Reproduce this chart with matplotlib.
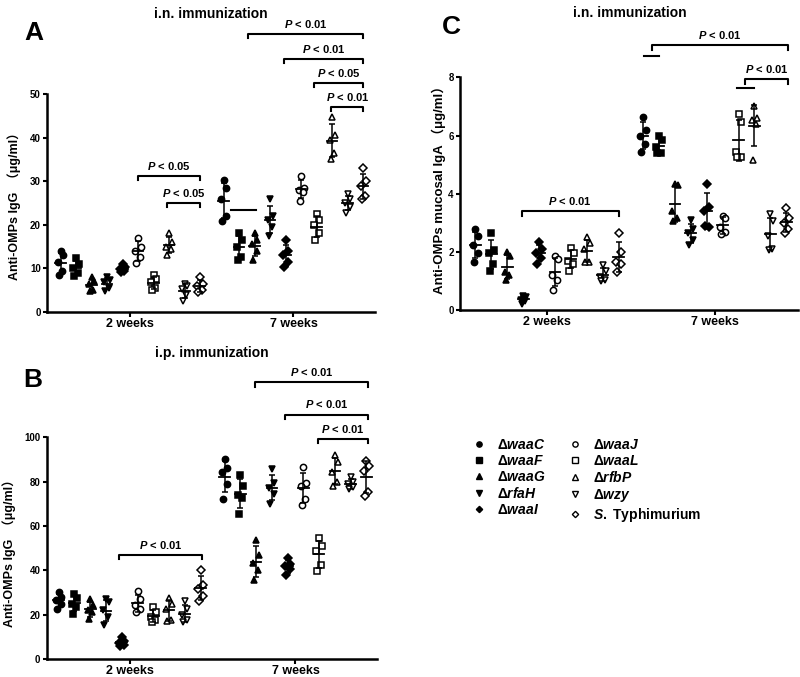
import numpy as np
import matplotlib
matplotlib.use("Agg")
import matplotlib.pyplot as plt
from matplotlib.lines import Line2D

plt.rcParams['font.family'] = ['Liberation Sans', 'Noto Sans CJK SC', 'DejaVu Sans']
plt.rcParams['font.weight'] = 'bold'
plt.rcParams['axes.labelweight'] = 'bold'
plt.rcParams['mathtext.fontset'] = 'custom'
plt.rcParams['mathtext.it'] = 'Liberation Sans:italic:bold'
plt.rcParams['mathtext.rm'] = 'Liberation Sans:bold'

# grupos
cepas = ["waaC", "waaF", "waaG", "rfaH", "waaI", "waaJ", "waaL", "rfbP", "wzy", "S."]
tiempos = ["2 weeks", "7 weeks"]
marcadores = ['o', 's', '^', 'v', 'D', 'o', 's', '^', 'v', 'D']
rellenos = ['k'] * 5 + ['white'] * 5

# A: IgG i.n. (ug/ml)
A_2w = [[13.9, 13.0, 11.5, 9.5, 8.5],
        [12.3, 11.0, 10.0, 9.0, 8.2],
        [8.0, 7.0, 6.5, 5.0, 4.8],
        [8.0, 7.3, 6.8, 5.5, 4.8],
        [11.0, 10.2, 9.8, 9.4, 9.2],
        [17.0, 15.0, 14.0, 12.5, 11.2],
        [8.5, 7.5, 6.8, 5.5, 5.0],
        [18.0, 16.0, 15.0, 14.5, 13.0],
        [6.5, 6.0, 5.2, 4.0, 2.5],
        [8.0, 6.5, 6.0, 5.0, 4.5]]
A_7w = [[30.3, 28.5, 26.0, 22.0, 20.8],
        [18.0, 16.5, 15.0, 12.5, 12.0],
        [18.0, 16.5, 15.5, 14.0, 12.0],
        [25.8, 22.0, 21.0, 19.5, 17.5],
        [16.5, 14.0, 13.0, 11.5, 10.2],
        [31.2, 28.5, 28.0, 27.5, 25.5],
        [22.5, 21.0, 20.0, 18.0, 16.5],
        [44.8, 40.5, 39.5, 36.5, 35.0],
        [27.0, 26.0, 25.0, 24.0, 22.8],
        [33.0, 30.0, 29.0, 26.5, 25.8]]

# B: IgG i.p. (ug/ml)
B_2w = [[30.0, 28.0, 26.5, 25.0, 22.5],
        [29.5, 27.5, 25.0, 23.5, 20.5],
        [27.0, 24.5, 22.0, 21.0, 18.0],
        [27.0, 25.5, 22.0, 19.0, 15.5],
        [10.0, 8.0, 7.0, 6.5, 6.0],
        [30.5, 27.0, 24.5, 22.5, 21.0],
        [23.5, 21.0, 19.0, 17.5, 16.5],
        [27.5, 25.0, 22.5, 17.5, 17.0],
        [26.0, 22.5, 20.0, 17.5, 16.5],
        [40.0, 33.5, 31.5, 28.5, 26.0]]
B_7w = [[90.0, 86.0, 84.5, 79.0, 72.0],
        [83.0, 78.0, 74.0, 72.5, 65.5],
        [53.5, 47.0, 43.5, 40.0, 35.5],
        [85.5, 79.5, 77.0, 74.5, 70.0],
        [45.5, 43.0, 42.0, 40.5, 38.0],
        [86.5, 79.5, 78.0, 72.0, 69.5],
        [54.5, 51.0, 48.5, 42.5, 39.5],
        [92.0, 89.0, 84.5, 80.0, 78.0],
        [82.0, 80.0, 79.0, 77.5, 76.5],
        [89.5, 87.0, 85.0, 75.5, 73.5]]

# C: IgA mucosa i.n. (ug/ml)
C_2w = [[2.8, 2.55, 2.25, 1.95, 1.65],
        [2.65, 2.05, 1.95, 1.6, 1.35],
        [2.0, 1.85, 1.3, 1.2, 1.05],
        [0.5, 0.45, 0.35, 0.3, 0.22],
        [2.35, 2.1, 1.95, 1.8, 1.6],
        [1.85, 1.75, 1.2, 1.05, 0.7],
        [2.15, 1.95, 1.7, 1.6, 1.35],
        [2.5, 2.3, 2.1, 1.65, 1.65],
        [1.55, 1.35, 1.15, 1.05, 1.0],
        [2.65, 2.0, 1.65, 1.6, 1.3]]
C_7w = [[6.65, 6.2, 6.0, 5.7, 5.45],
        [6.0, 5.85, 5.6, 5.4, 5.4],
        [4.35, 4.3, 3.4, 3.15, 3.05],
        [3.1, 2.8, 2.65, 2.4, 2.25],
        [4.35, 3.55, 3.4, 2.85, 2.9],
        [3.25, 3.15, 2.85, 2.7, 2.6],
        [6.75, 6.45, 5.45, 5.25, 5.25],
        [7.0, 6.6, 6.55, 6.4, 5.15],
        [3.3, 3.05, 2.55, 2.1, 2.05],
        [3.5, 3.15, 3.0, 2.8, 2.65]]

# corchetes: (tiempo, grupo inicio, grupo fin, altura, texto)
A_sig = [(0, 5.0, 9.0, 31.2, "P < 0.05"), (0, 6.9, 9.0, 25.0, "P < 0.05"),
         (1, 1.6, 9.0, 63.8, "P < 0.01"), (1, 3.9, 9.0, 58.0, "P < 0.01"),
         (1, 5.85, 9.0, 52.5, "P < 0.05"), (1, 6.95, 9.0, 47.0, "P < 0.01")]
B_sig = [(0, 3.85, 9.1, 47.0, "P < 0.01"),
         (1, 1.93, 9.1, 124.9, "P < 0.01"), (1, 3.85, 9.1, 110.2, "P < 0.01"),
         (1, 5.9, 9.1, 99.2, "P < 0.01")]
C_sig = [(0, 2.9, 9.0, 3.41, "P < 0.01"),
         (1, 0.56, 9.1, 9.1, "P < 0.01"), (1, 6.42, 9.1, 7.93, "P < 0.01")]
# rayas sueltas
A_raya = [(1, 0.45, 2.1, 23.4)]
C_raya = [(1, 0.04, 0.98, 8.73), (1, 5.9, 7.0, 7.62)]

sep = 0.095
jit = np.array([0.0, 0.016, -0.016, 0.012, -0.01])


def posx(t, i):
    return t + (i - 4.5) * sep


def p_texto(s):
    return s.replace("P", r"$\mathit{P}$", 1)


def dibuja(ax, d2, d7, ymax, ystep, xlim, sig, rayas):
    for t, datos in enumerate([d2, d7]):
        for i, vals in enumerate(datos):
            xc = posx(t, i)
            ms = 3.8 if marcadores[i] == 'D' else 4.5
            ax.plot(xc + jit, vals, ls='none', marker=marcadores[i], mfc=rellenos[i],
                    mec='k', ms=ms, mew=1.1, clip_on=False, zorder=3)
            m = np.mean(vals)
            s = np.std(vals, ddof=1)
            ax.plot([xc - 0.032, xc + 0.032], [m, m], 'k-', lw=1.3, zorder=4)
            ax.errorbar(xc, m, yerr=s, fmt='none', ecolor='k', elinewidth=1.1,
                        capsize=2.5, capthick=1.1, zorder=4)
    h = ymax * 0.02
    for t, i0, i1, y, txt in sig:
        x0, x1 = posx(t, i0), posx(t, i1)
        ax.plot([x0, x0, x1, x1], [y - h, y, y, y - h], 'k-', lw=1.5, clip_on=False)
        ax.annotate(p_texto(txt), xy=((x0 + x1) / 2, y), xytext=(0, 3),
                    textcoords='offset points', ha='center', va='bottom',
                    fontsize=8, annotation_clip=False)
    for t, i0, i1, y in rayas:
        ax.plot([posx(t, i0), posx(t, i1)], [y, y], 'k-', lw=1.5, clip_on=False)
    ax.set_xlim(*xlim)
    ax.set_ylim(0, ymax)
    ax.set_yticks(np.arange(0, ymax + ystep / 2, ystep))
    ax.set_xticks([0, 1])
    ax.set_xticklabels(tiempos, fontsize=9)
    ax.tick_params(axis='y', labelsize=7, length=3, width=1.5, pad=1.5)
    ax.tick_params(axis='x', length=3.5, width=1.5, pad=1)
    for lado in ['top', 'right']:
        ax.spines[lado].set_visible(False)
    for lado in ['left', 'bottom']:
        ax.spines[lado].set_linewidth(1.8)


fig = plt.figure(figsize=(8, 6.77), dpi=100)

axA = fig.add_axes([0.0588, 0.5392, 0.41, 0.322])
dibuja(axA, A_2w, A_7w, 50, 10, (-0.51, 1.50), A_sig, A_raya)
axA.set_ylabel("Anti-OMPs IgG  （μg/ml）", fontsize=9)
axA.yaxis.set_label_coords(-0.079, 0.5)

axB = fig.add_axes([0.0584, 0.0266, 0.4125, 0.3275])
dibuja(axB, B_2w, B_7w, 100, 20, (-0.50, 1.49), B_sig, [])
axB.set_ylabel("Anti-OMPs IgG  （μg/ml）", fontsize=9)
axB.yaxis.set_label_coords(-0.094, 0.49)

axC = fig.add_axes([0.575, 0.542, 0.422, 0.3437])
dibuja(axC, C_2w, C_7w, 8, 2, (-0.52, 1.495), C_sig, C_raya)
axC.set_ylabel("Anti-OMPs mucosal IgA （μg/ml）", fontsize=9.5)
axC.yaxis.set_label_coords(-0.042, 0.53)

fig.text(0.264, 0.99, "i.n. immunization", ha='center', va='top', fontsize=10)
fig.text(0.7875, 0.991, "i.n. immunization", ha='center', va='top', fontsize=10)
fig.text(0.265, 0.489, "i.p. immunization", ha='center', va='top', fontsize=10)
fig.text(0.031, 0.951, "A", va='center', fontsize=19)
fig.text(0.5525, 0.96, "C", va='center', fontsize=19)
fig.text(0.029, 0.439, "B", va='center', fontsize=19)

etiquetas = [r"Δ$\mathit{" + c + "}$" for c in cepas[:-1]]
etiquetas.append(r"$\mathit{S.}$ Typhimurium")
manijas = [Line2D([], [], ls='none', marker=marcadores[i], mfc=rellenos[i], mec='k',
                  ms=3.2 if marcadores[i] == 'D' else 3.8, mew=1) for i in range(10)]
fig.legend(manijas, etiquetas, ncol=2, loc='upper left', bbox_to_anchor=(0.575, 0.372),
           frameon=False, fontsize=10, handlelength=1.0, handletextpad=0.8,
           columnspacing=1.6, labelspacing=0.15)

fig.savefig("out.png", dpi=100)
